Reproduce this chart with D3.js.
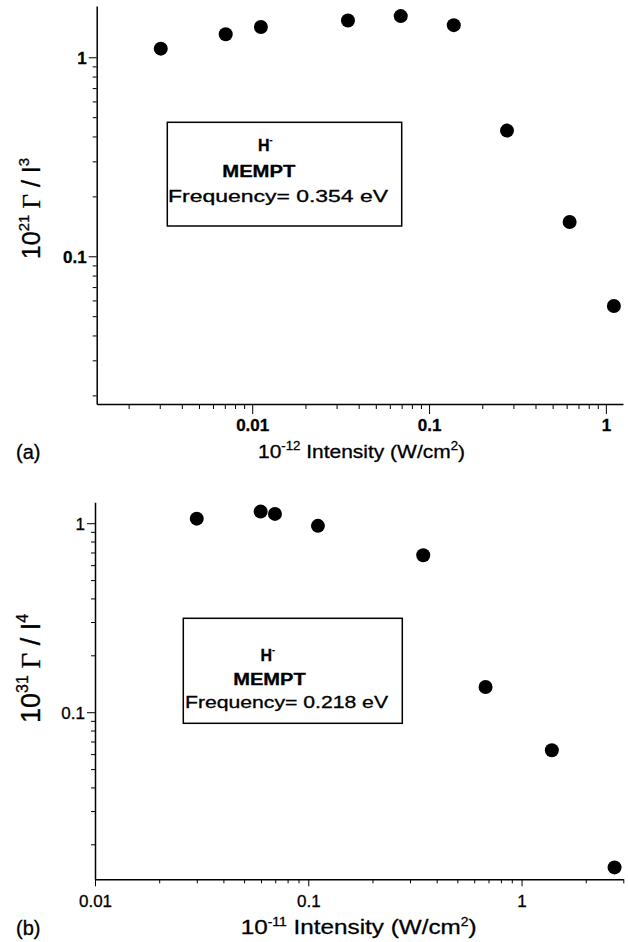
<!DOCTYPE html>
<html lang="en">
<head>
<meta charset="UTF-8">
<script src="https://d3js.org/d3.v7.min.js"></script>
<title>H- MEMPT rates</title>
<style>
  body { margin: 0; background: #fff; }
  svg text { font-family: "Liberation Sans", Arial, sans-serif; fill: #000; stroke: #000; stroke-width: 0.3px; }
  .axis path, .axis line { stroke: #000; }
  .axis path { stroke-width: 1.5px; }
</style>
</head>
<body>
<div id="chart"></div>
<script>
// panel (a): frequency 0.354 eV
const intensityA = [0.00304, 0.00708, 0.0112, 0.0348, 0.0692, 0.138, 0.276, 0.624, 1.11];
const rateA      = [1.105, 1.305, 1.42, 1.53, 1.61, 1.45, 0.428, 0.1486, 0.0563];
// panel (b): frequency 0.218 eV
const intensityB = [0.030, 0.0598, 0.0698, 0.111, 0.346, 0.678, 1.387, 2.73];
const rateB      = [1.057, 1.152, 1.12, 0.968, 0.677, 0.136, 0.0629, 0.0151];

const xTicksA = [0.01, 0.1, 1];
const yTicksA = [0.1, 1];
const xTicksB = [0.01, 0.1, 1];
const yTicksB = [0.1, 1];

const width = 628, height = 942;

const svg = d3.select("#chart").append("svg")
    .attr("width", width)
    .attr("height", height);

function drawPanel(p) {
    const x = d3.scaleLog().domain(p.xDomain).range([p.left, p.right]);
    const y = d3.scaleLog().domain(p.yDomain).range([p.bottom, p.top]);
    const g = svg.append("g");
    const fmt = d => String(d);

    // minor ticks
    g.append("g").attr("class", "axis")
        .attr("transform", `translate(0,${p.bottom})`)
        .call(d3.axisBottom(x).tickValues(x.ticks().filter(t => !p.xTicks.includes(t)))
            .tickSize(p.minorX).tickSizeOuter(0).tickFormat(""))
        .call(a => a.select(".domain").remove());
    g.append("g").attr("class", "axis")
        .attr("transform", `translate(${p.left},0)`)
        .call(d3.axisLeft(y).tickValues(y.ticks().filter(t => !p.yTicks.includes(t)))
            .tickSize(4).tickSizeOuter(0).tickFormat(""))
        .call(a => a.select(".domain").remove());

    // major ticks + axis lines
    const ax = g.append("g").attr("class", "axis")
        .attr("transform", `translate(0,${p.bottom})`)
        .call(d3.axisBottom(x).tickValues(p.xTicks).tickSize(p.majorX).tickSizeOuter(0).tickFormat(fmt));
    ax.selectAll("text").attr("y", p.xLabelDy).attr("dy", 0)
        .style("font-size", "17px").style("font-weight", p.tickWeight);

    const ay = g.append("g").attr("class", "axis")
        .attr("transform", `translate(${p.left},0)`)
        .call(d3.axisLeft(y).tickValues(p.yTicks).tickSize(8).tickSizeOuter(0).tickFormat(fmt));
    ay.selectAll("text").attr("x", -10).attr("dy", "0.35em")
        .style("font-size", "17px").style("font-weight", p.tickWeight);

    // points
    g.selectAll("circle.pt")
        .data(p.xs.map((v, i) => [v, p.ys[i]]))
        .join("circle")
        .attr("class", "pt")
        .attr("cx", d => x(d[0]))
        .attr("cy", d => y(d[1]))
        .attr("r", 7)
        .attr("fill", "#000");

    // legend box
    const lg = p.legend;
    g.append("rect")
        .attr("x", lg.x).attr("y", lg.y).attr("width", lg.w).attr("height", lg.h)
        .attr("fill", "none").attr("stroke", "#000").attr("stroke-width", 1.5);
    const h = g.append("text").attr("x", lg.hx).attr("y", lg.hy)
        .style("font-size", "16px").style("font-weight", "bold");
    h.append("tspan").text("H");
    h.append("tspan").attr("dy", -8).style("font-size", "9px").text("-");
    g.append("text").attr("x", lg.mx).attr("y", lg.my)
        .attr("textLength", lg.mw).attr("lengthAdjust", "spacingAndGlyphs")
        .style("font-size", "16px").style("font-weight", "bold").text("MEMPT");
    g.append("text").attr("x", lg.fx).attr("y", lg.fy)
        .attr("textLength", lg.fw).attr("lengthAdjust", "spacingAndGlyphs")
        .style("font-size", "16px").text(`Frequency= ${p.freq} eV`);

    // y title
    const yt = g.append("text")
        .attr("transform", `translate(${p.yTitleX},${p.yTitleY}) rotate(-90)`)
        .attr("text-anchor", "middle")
        .style("font-size", p.yTitleSize + "px");
    const sup = Math.round(p.yTitleSize * 0.6), lift = Math.round(p.yTitleSize * 0.45);
    yt.append("tspan").text("10");
    yt.append("tspan").attr("dy", -lift).style("font-size", sup + "px").text(p.yExp);
    yt.append("tspan").attr("dy", lift).style("font-family", "'Liberation Serif', serif").text(" Γ");
    yt.append("tspan").text(" / I");
    yt.append("tspan").attr("dy", -lift).style("font-size", sup + "px").text(p.yPow);

    // x title
    const xt = g.append("text")
        .attr("x", p.xTitleX).attr("y", p.xTitleY)
        .attr("text-anchor", "middle")
        .attr("textLength", p.xTitleLen).attr("lengthAdjust", "spacingAndGlyphs")
        .style("font-size", p.xTitleSize);
    xt.append("tspan").text("10");
    xt.append("tspan").attr("dy", -8).style("font-size", "12px").text(p.xExp);
    xt.append("tspan").attr("dy", 8).text(" Intensity (W/cm");
    xt.append("tspan").attr("dy", -8).style("font-size", "12px").text("2");
    xt.append("tspan").attr("dy", 8).text(")");

    g.append("text").attr("x", 16).attr("y", p.tagY)
        .style("font-size", "20px").text(p.tag);
}

drawPanel({
    xs: intensityA, ys: rateA, xTicks: xTicksA, yTicks: yTicksA,
    xDomain: [0.00132, 1.25], yDomain: [0.0181, 1.81],
    left: 96.7, right: 623, top: 6, bottom: 404,
    minorX: 5, majorX: 10, xLabelDy: 27, tickWeight: "bold",
    legend: { x: 167.3, y: 122.3, w: 234.4, h: 103.7,
              hx: 258, hy: 151, mx: 222.3, my: 177, mw: 73, fx: 168, fy: 201.5, fw: 220 },
    freq: "0.354",
    yTitleX: 40, yTitleY: 208.5, yTitleSize: 25, yExp: "21", yPow: "3",
    xTitleX: 361.5, xTitleY: 458, xTitleLen: 207, xTitleSize: "19px", xExp: "-12",
    tag: "(a)", tagY: 459
});

drawPanel({
    xs: intensityB, ys: rateB, xTicks: xTicksB, yTicks: yTicksB,
    xDomain: [0.01, 3], yDomain: [0.01306, 1.29],
    left: 95, right: 623.3, top: 502.3, bottom: 879.3,
    minorX: 4, majorX: 7, xLabelDy: 27.4, tickWeight: "normal",
    legend: { x: 183.3, y: 618.3, w: 219, h: 105,
              hx: 260.5, hy: 661, mx: 233.3, my: 684.5, mw: 72.4, fx: 185, fy: 707.5, fw: 203 },
    freq: "0.218",
    yTitleX: 40, yTitleY: 668.5, yTitleSize: 27, yExp: "31", yPow: "4",
    xTitleX: 358.7, xTitleY: 934, xTitleLen: 236, xTitleSize: "21px", xExp: "-11",
    tag: "(b)", tagY: 935
});
</script>
</body>
</html>
